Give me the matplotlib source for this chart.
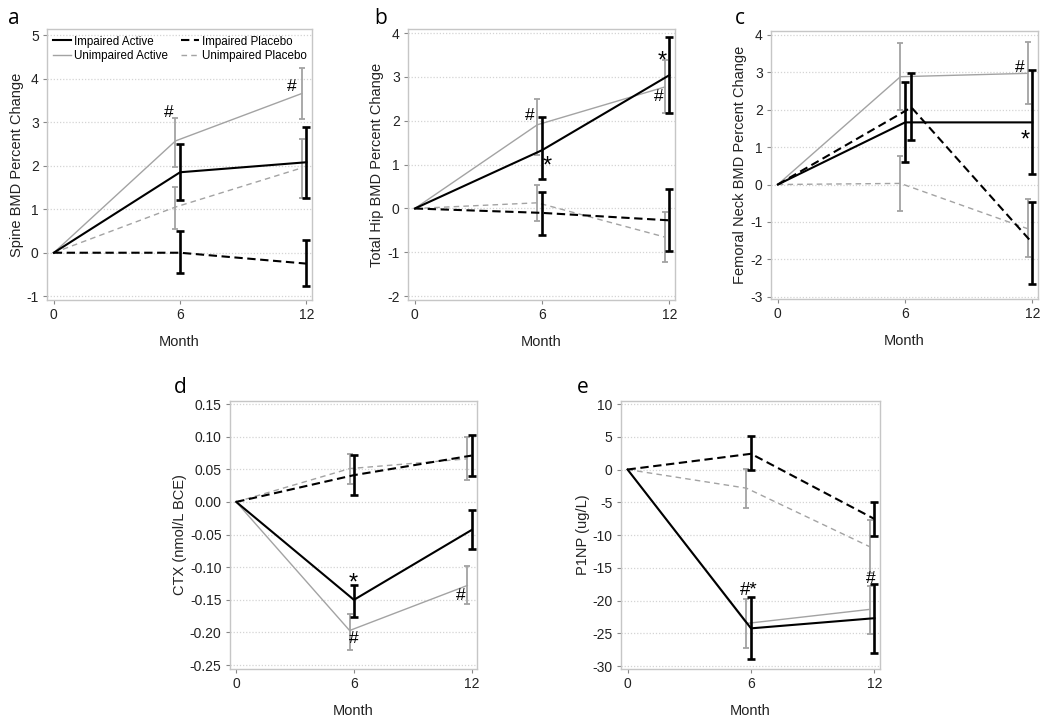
import matplotlib
matplotlib.use("Agg")
import matplotlib.pyplot as plt
from matplotlib.lines import Line2D
import numpy as np

plt.rcParams['font.family'] = ['Liberation Sans', 'DejaVu Sans']

months = [0, 6, 12]
series_names = ["Impaired Active", "Unimpaired Active", "Impaired Placebo", "Unimpaired Placebo"]

# Panel a: Spine BMD
spine_mean = {"Impaired Active": [0, 1.85, 2.08], "Unimpaired Active": [0, 2.57, 3.66],
              "Impaired Placebo": [0, 0.0, -0.25], "Unimpaired Placebo": [0, 1.05, 1.95]}
spine_lo = {"Impaired Active": [1.22, 1.26], "Unimpaired Active": [1.98, 3.08],
            "Impaired Placebo": [-0.47, -0.77], "Unimpaired Placebo": [0.54, 1.26]}
spine_hi = {"Impaired Active": [2.49, 2.89], "Unimpaired Active": [3.10, 4.24],
            "Impaired Placebo": [0.49, 0.30], "Unimpaired Placebo": [1.51, 2.62]}

# Panel b: Total hip BMD
hip_mean = {"Impaired Active": [0, 1.33, 3.04], "Unimpaired Active": [0, 1.91, 2.77],
            "Impaired Placebo": [0, -0.10, -0.27], "Unimpaired Placebo": [0, 0.13, -0.65]}
hip_lo = {"Impaired Active": [0.67, 2.18], "Unimpaired Active": [1.22, 2.18],
          "Impaired Placebo": [-0.60, -0.97], "Unimpaired Placebo": [-0.29, -1.21]}
hip_hi = {"Impaired Active": [2.08, 3.90], "Unimpaired Active": [2.49, 3.39],
          "Impaired Placebo": [0.38, 0.44], "Unimpaired Placebo": [0.54, -0.08]}

# Panel c: Femoral neck BMD
neck_mean = {"Impaired Active": [0, 1.66, 1.66], "Unimpaired Active": [0, 2.88, 2.97],
             "Impaired Placebo": [0, 2.06, -1.56], "Unimpaired Placebo": [0, 0.03, -1.18]}
neck_lo = {"Impaired Active": [0.59, 0.28], "Unimpaired Active": [1.99, 2.16],
           "Impaired Placebo": [1.20, -2.67], "Unimpaired Placebo": [-0.71, -1.94]}
neck_hi = {"Impaired Active": [2.75, 3.06], "Unimpaired Active": [3.77, 3.80],
           "Impaired Placebo": [2.99, -0.47], "Unimpaired Placebo": [0.77, -0.40]}

# Panel d: CTX
ctx_mean = {"Impaired Active": [0, -0.150, -0.043], "Unimpaired Active": [0, -0.197, -0.128],
            "Impaired Placebo": [0, 0.041, 0.071], "Unimpaired Placebo": [0, 0.051, 0.066]}
ctx_lo = {"Impaired Active": [-0.176, -0.072], "Unimpaired Active": [-0.227, -0.157],
          "Impaired Placebo": [0.011, 0.039], "Unimpaired Placebo": [0.028, 0.033]}
ctx_hi = {"Impaired Active": [-0.127, -0.013], "Unimpaired Active": [-0.171, -0.098],
          "Impaired Placebo": [0.072, 0.103], "Unimpaired Placebo": [0.073, 0.100]}

# Panel e: P1NP
p1np_mean = {"Impaired Active": [0, -24.25, -22.7], "Unimpaired Active": [0, -23.5, -21.35],
             "Impaired Placebo": [0, 2.4, -7.55], "Unimpaired Placebo": [0, -2.85, -11.8]}
p1np_lo = {"Impaired Active": [-28.9, -28.0], "Unimpaired Active": [-27.3, -25.1],
           "Impaired Placebo": [-0.05, -10.1], "Unimpaired Placebo": [-5.8, -15.85]}
p1np_hi = {"Impaired Active": [-19.4, -17.5], "Unimpaired Active": [-19.8, -17.8],
           "Impaired Placebo": [5.1, -4.95], "Unimpaired Placebo": [0.05, -7.7]}

GREY = "#a3a3a3"
styles = {
    "Impaired Active": dict(color="black", lw=1.5, ls="-", elw=1.9, cap=3.0, z=4),
    "Unimpaired Active": dict(color=GREY, lw=1.0, ls="-", elw=1.3, cap=2.3, z=3),
    "Impaired Placebo": dict(color="black", lw=1.5, ls=(0, (4, 2.2)), elw=1.9, cap=3.0, z=4),
    "Unimpaired Placebo": dict(color=GREY, lw=1.0, ls=(0, (4, 3)), elw=1.3, cap=2.3, z=3),
}
offsets = {"Impaired Active": 0.0, "Unimpaired Active": -0.22,
           "Impaired Placebo": 0.0, "Unimpaired Placebo": -0.22}

fig = plt.figure(figsize=(10.5, 7.25), dpi=100)

def make_axes(rect, ylim, yticks, yfmt, ylabel, xlabel, letter, letter_xy):
    ax = fig.add_axes(rect)
    ax.set_xlim(-0.32, 12.27)
    ax.set_ylim(*ylim)
    ax.set_xticks(months)
    ax.set_yticks(yticks)
    ax.set_yticklabels([yfmt.format(v) for v in yticks])
    for s in ax.spines.values():
        s.set_color("#c6c6c6")
        s.set_linewidth(1.0)
    ax.tick_params(axis="both", colors="#888888", labelcolor="#222222",
                   labelsize=10, length=3, width=0.8, pad=3)
    ax.yaxis.grid(True, color="#d4d4d4", ls=(0, (1, 1.5)), lw=0.9)
    ax.set_axisbelow(True)
    ax.set_ylabel(ylabel, fontsize=10.5, color="#222222", labelpad=2)
    if xlabel:
        ax.set_xlabel(xlabel, fontsize=10.5, color="#222222", labelpad=9)
    fig.text(letter_xy[0], letter_xy[1], letter, fontsize=15, family=["Open Sans", "DejaVu Sans"],
             ha="left", va="center")
    return ax

def draw(ax, mean, lo, hi, special_offsets=None):
    order = ["Unimpaired Placebo", "Unimpaired Active", "Impaired Placebo", "Impaired Active"]
    for name in order:
        st = styles[name]
        off = offsets[name]
        xs = np.array([months[0], months[1] + off, months[2] + off], dtype=float)
        if special_offsets and name in special_offsets:
            xs[1:] = [months[i + 1] + special_offsets[name][i] for i in range(2)]
        ys = np.array(mean[name], dtype=float)
        ax.plot(xs, ys, color=st["color"], lw=st["lw"], ls=st["ls"], zorder=st["z"],
                dash_capstyle="butt")
        m = ys[1:]
        l = np.array(lo[name]); h = np.array(hi[name])
        ax.errorbar(xs[1:], m, yerr=[m - l, h - m], fmt="none", ecolor=st["color"],
                    elinewidth=st["elw"], capsize=st["cap"], capthick=st["elw"], zorder=st["z"])

def mark(ax, x, y, s):
    ax.text(x, y, s, fontsize=12.5, ha="center", va="center", zorder=6)

def star(ax, x, y):
    ax.text(x, y, "*", fontsize=17, ha="center", va="center_baseline", zorder=6)

# a
ax_a = make_axes([0.0448, 0.586, 0.2524, 0.3738], (-1.09, 5.14), [-1, 0, 1, 2, 3, 4, 5], "{:d}",
                 "Spine BMD Percent Change", "Month", "a", (0.008, 0.975))
draw(ax_a, spine_mean, spine_lo, spine_hi)
mark(ax_a, 5.46, 3.22, "#")
mark(ax_a, 11.3, 3.82, "#")
handles = [Line2D([], [], color=styles[n]["color"], lw=styles[n]["lw"], ls=styles[n]["ls"]) for n in series_names]
ax_a.legend(handles, series_names, ncol=2, loc="upper left", frameon=False, fontsize=8.4,
            handlelength=1.5, handletextpad=0.25, columnspacing=1.15, labelspacing=0.25,
            borderaxespad=0.35, borderpad=0.2, bbox_to_anchor=(0.0, 1.0))

# b
ax_b = make_axes([0.3886, 0.586, 0.2543, 0.3738], (-2.09, 4.09), [-2, -1, 0, 1, 2, 3, 4], "{:d}",
                 "Total Hip BMD Percent Change", "Month", "b", (0.356, 0.975))
draw(ax_b, hip_mean, hip_lo, hip_hi)
mark(ax_b, 5.43, 2.11, "#")
star(ax_b, 6.26, 1.02)
star(ax_b, 11.67, 3.40)
mark(ax_b, 11.48, 2.55, "#")

# c
ax_c = make_axes([0.7343, 0.588, 0.2543, 0.3697], (-3.05, 4.11), [-3, -2, -1, 0, 1, 2, 3, 4], "{:d}",
                 "Femoral Neck BMD Percent Change", "Month", "c", (0.700, 0.975))
draw(ax_c, neck_mean, neck_lo, neck_hi, special_offsets={"Impaired Placebo": [0.3, 0.0]})
mark(ax_c, 11.39, 3.12, "#")
star(ax_c, 11.65, 1.24)

# d
ax_d = make_axes([0.2190, 0.0772, 0.2352, 0.3697], (-0.256, 0.1546),
                 [-0.25, -0.20, -0.15, -0.10, -0.05, 0.0, 0.05, 0.10, 0.15], "{:.2f}",
                 "CTX (nmol/L BCE)", "Month", "d", (0.166, 0.465))
draw(ax_d, ctx_mean, ctx_lo, ctx_hi)
star(ax_d, 5.98, -0.1215)
mark(ax_d, 6.0, -0.209, "#")
mark(ax_d, 11.44, -0.143, "#")

# e
ax_e = make_axes([0.5914, 0.0772, 0.2467, 0.3697], (-30.46, 10.46),
                 [-30, -25, -20, -15, -10, -5, 0, 5, 10], "{:d}",
                 "P1NP (ug/L)", "Month", "e", (0.549, 0.465))
draw(ax_e, p1np_mean, p1np_lo, p1np_hi)
ax_e.text(5.88, -18.4, "#*", fontsize=13.5, ha="center", va="center", zorder=6)
mark(ax_e, 11.8, -16.6, "#")

fig.savefig("out.png", dpi=100)
